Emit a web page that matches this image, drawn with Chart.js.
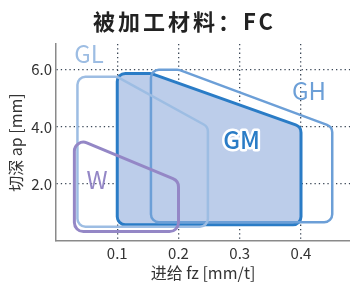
<!DOCTYPE html>
<html>
<head>
<meta charset="utf-8">
<script src="https://cdn.jsdelivr.net/npm/chart.js@4/dist/chart.umd.min.js"></script>
<style>
html,body{margin:0;padding:0;background:#fff;}
#wrap{width:350px;height:283px;}
</style>
</head>
<body>
<div id="wrap"><canvas id="chart"></canvas></div>
<script>
// tick labels
const xTicks=[0.1,0.2,0.3,0.4];
const yTicks=[2,4,6];

// region outlines (fz, ap)
const gmX=[0.1,0.1,0.155,0.4,0.4];
const gmY=[0.57,5.87,5.87,4.0,0.57];
const ghX=[0.155,0.155,0.2,0.451,0.451];
const ghY=[0.66,6.0,6.0,4.0,0.66];
const glX=[0.035,0.035,0.1,0.248,0.248];
const glY=[0.5,5.75,5.75,4.0,0.5];
const wX=[0.03,0.03,0.2,0.2];
const wY=[0.33,3.62,2.1,0.33];

// region names and where the names sit
const names=["GL","GH","GM","W"];
const nameX=[0.054,0.413,0.303,0.067];
const nameY=[6.56,5.25,3.53,2.14];

const FONT='"Noto Sans CJK SC","Noto Sans",sans-serif';
const colors={GL:"#9dbde3",GH:"#6c9fd7",GM:"#2a7cc6",W:"#9487c6"};

function pts(xs,ys){return xs.map((x,i)=>({x:x,y:ys[i]}));}

// draw each region as a closed polygon with rounded corners
const roundPoly={
id:"roundPoly",
beforeDatasetDraw(chart,args){
const ds=chart.data.datasets[args.index];
const p=args.meta.data;
const ctx=chart.ctx;
const r=ds.radius||7;
const n=p.length;
ctx.save();
ctx.beginPath();
let sx=(p[0].x+p[n-1].x)/2, sy=(p[0].y+p[n-1].y)/2;
ctx.moveTo(sx,sy);
for(let i=0;i<n;i++){
let a=p[i],b=p[(i+1)%n];
ctx.arcTo(a.x,a.y,b.x,b.y,r);
}
ctx.closePath();
if(ds.fillColor){ctx.fillStyle=ds.fillColor;ctx.fill();}
ctx.lineWidth=ds.borderWidth;
ctx.strokeStyle=ds.borderColor;
ctx.lineJoin="round";
ctx.stroke();
ctx.restore();
return false;
}
};

const labelsPlugin={
id:"labelsPlugin",
afterDatasetsDraw(chart){
const ctx=chart.ctx;
const xs=chart.scales.x, ys=chart.scales.y;
ctx.save();
ctx.textAlign="center";
ctx.textBaseline="middle";
names.forEach((t,i)=>{
let px=xs.getPixelForValue(nameX[i]), py=ys.getPixelForValue(nameY[i]);
if(t=="GM"){
ctx.font="500 24px "+FONT;
ctx.lineWidth=5;ctx.strokeStyle="#fff";ctx.lineJoin="round";
ctx.strokeText(t,px,py);
}else{
ctx.font="24px "+FONT;
}
ctx.fillStyle=colors[t];
ctx.fillText(t,px,py);
});
ctx.restore();
}
};

const titlePlugin={
id:"titlePlugin",
afterDraw(chart){
const ctx=chart.ctx;
ctx.save();
ctx.font="bold 22px "+FONT;
ctx.fillStyle="#222";
ctx.textBaseline="middle";
ctx.textAlign="left";
ctx.letterSpacing="3px";
ctx.fillText("被加工材料：FC",93,22);
ctx.restore();
}
};

const ctx=document.getElementById("chart").getContext("2d");
new Chart(ctx,{
type:"line",
data:{
datasets:[
{label:"W",data:pts(wX,wY),borderColor:colors.W,borderWidth:3,radius:9,pointRadius:0},
{label:"GL",data:pts(glX,glY),borderColor:colors.GL,borderWidth:2.5,radius:8,pointRadius:0},
{label:"GH",data:pts(ghX,ghY),borderColor:colors.GH,borderWidth:2.5,radius:8,pointRadius:0},
{label:"GM",data:pts(gmX,gmY),borderColor:colors.GM,fillColor:"#bccdea",borderWidth:3,radius:8,pointRadius:0}
]
},
options:{
responsive:true,
maintainAspectRatio:false,
animation:false,
layout:{padding:{top:44,right:0,left:0,bottom:0}},
plugins:{legend:{display:false},tooltip:{enabled:false},title:{display:false}},
scales:{
x:{
type:"linear",min:0,max:0.48,z:1,
afterBuildTicks:s=>{s.ticks=xTicks.map(v=>({value:v}));},
afterFit:s=>{s.height=42;},
grid:{color:"#3a4656",lineWidth:1.3,drawTicks:false},
border:{color:"#8a8a8a",width:1.5,dash:[1.3,3]},
ticks:{padding:3,color:"#333",font:{family:FONT,size:15},callback:v=>v.toFixed(1)},
title:{display:true,text:"进给 fz [mm/t]",color:"#333",font:{family:FONT,size:16},padding:{top:0,bottom:0}}
},
y:{
type:"linear",min:0,max:6.9,z:1,
afterBuildTicks:s=>{s.ticks=yTicks.map(v=>({value:v}));},
afterFit:s=>{s.width=56;},
grid:{color:"#3a4656",lineWidth:1.3,drawTicks:false},
border:{color:"#8a8a8a",width:1.5,dash:[1.3,3]},
ticks:{padding:4,color:"#333",font:{family:FONT,size:15},callback:v=>v.toFixed(1)},
title:{display:true,text:"切深 ap [mm]",color:"#333",font:{family:FONT,size:16},padding:{top:6,bottom:0}}
}
}
},
plugins:[roundPoly,labelsPlugin,titlePlugin]
});
</script>
</body>
</html>
